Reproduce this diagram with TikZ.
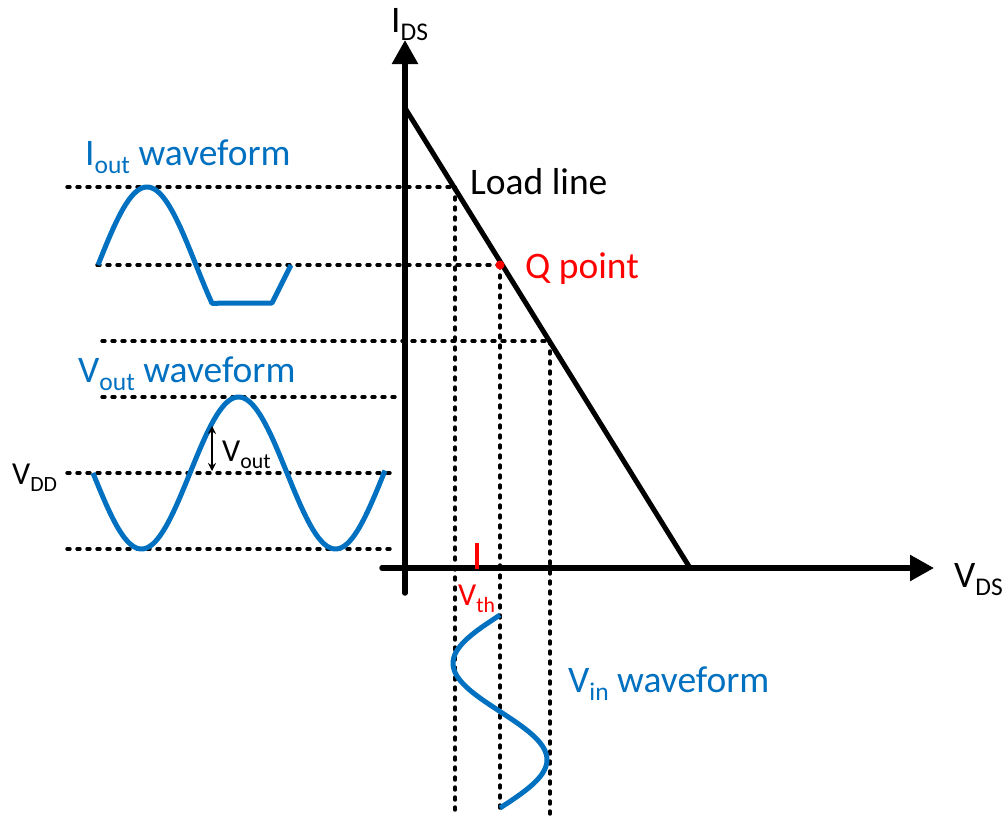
\documentclass[tikz,border=0pt]{standalone}
\usepackage{fontspec}
\setmainfont{Carlito}
\usetikzlibrary{arrows.meta}
\definecolor{wblue}{HTML}{0070C0}
\definecolor{wred}{HTML}{FF0000}
\newcommand\lo[1]{\raisebox{-0.22em}{\scalebox{0.68}{#1}}}
\begin{document}
\begin{tikzpicture}[x=1pt,y=-1pt,
  big/.style={font=\fontsize{37.5}{42}\selectfont, inner sep=0pt},
  mid/.style={font=\fontsize{32}{36}\selectfont, inner sep=0pt},
  guide/.style={line width=3.4pt, line cap=round, dash pattern=on 3pt off 7pt},
  axis/.style={line width=5.5pt, line cap=round, -{Triangle[length=24pt,width=25pt]}},
  wave/.style={line width=5pt, wblue, line join=round}]
\useasboundingbox (0,0) rectangle (1003,822);
% coordinates
\coordinate (yb) at (405,593);
\coordinate (yt) at (405,40);
\coordinate (xl) at (382,568);
\coordinate (xr) at (934,568);
\coordinate (l1) at (405,108);
\coordinate (l2) at (690,568);
% dashed guides
\coordinate (h1a) at (67,187);  \coordinate (h1b) at (455,187);
\coordinate (h2a) at (97,265);  \coordinate (q) at (500,265);
\coordinate (h3a) at (102,341); \coordinate (h3b) at (550,341);
\coordinate (h4a) at (102,397); \coordinate (h4b) at (395,397);
\coordinate (h5a) at (67,473);  \coordinate (h5b) at (395,473);
\coordinate (h6a) at (67,549);  \coordinate (h6b) at (395,549);
\coordinate (v1) at (455,815); \coordinate (v2) at (500,815); \coordinate (v3) at (550,815);
\draw[guide] (h1a) -- (h1b);
\draw[guide] (h2a) -- (q);
\draw[guide] (h3a) -- (h3b);
\draw[guide] (h4a) -- (h4b);
\draw[guide] (h5a) -- (h5b);
\draw[guide] (h6a) -- (h6b);
\draw[guide] (h1b) -- (v1);
\draw[guide] (q) -- (v2);
\draw[guide] (h3b) -- (v3);
% axes
\draw[axis] (yb) -- (yt);
\draw[axis] (xl) -- (xr);
\draw[line width=5pt] (l1) -- (l2);
% Q point
\fill[wred] (q) circle (4.5pt);
% Vth tick
\draw[wred, line width=4.5pt] (477,543) -- (477,569);
% waveforms
\draw[wave] plot[domain=98:212, samples=80] (\x, {265-78*sin((\x-98)*1.83673)}) -- (272,303) -- (291,265);
\draw[wave] plot[domain=93:385, samples=150] (\x, {473+76*sin((\x-93)*1.85567)});
\draw[wave] plot[domain=615:808, samples=100] ({500-47*sin((\x-615)*1.86528)}, \x);
% Vout arrow
\coordinate (va) at (212,426); \coordinate (vb) at (212,471);
\draw[line width=1.6pt, {Stealth[length=8pt,width=8pt]}-{Stealth[length=8pt,width=8pt]}] (va) -- (vb);
% labels
\node[big, anchor=base west] (ids) at (391,32) {I\lo{DS}};
\node[big, anchor=base west] (vds) at (954,587) {V\lo{DS}};
\node[big, anchor=base west] (ll) at (470,194) {Load line};
\node[big, anchor=base west, text=wred] (qp) at (525,278) {Q point};
\node[big, anchor=base west, text=wblue] (iw) at (85,165) {I\lo{out} waveform};
\node[big, anchor=base west, text=wblue] (vw) at (78,382) {V\lo{out} waveform};
\node[big, anchor=base west, text=wblue] (vinw) at (568,692) {V\lo{in} waveform};
\node[mid, anchor=base west] (vdd) at (12,484) {V\lo{DD}};
\node[mid, anchor=base west] (vo) at (222,461) {V\lo{out}};
\node[mid, anchor=base west, text=wred] (vth) at (458,605) {V\lo{th}};
\end{tikzpicture}
\end{document}
